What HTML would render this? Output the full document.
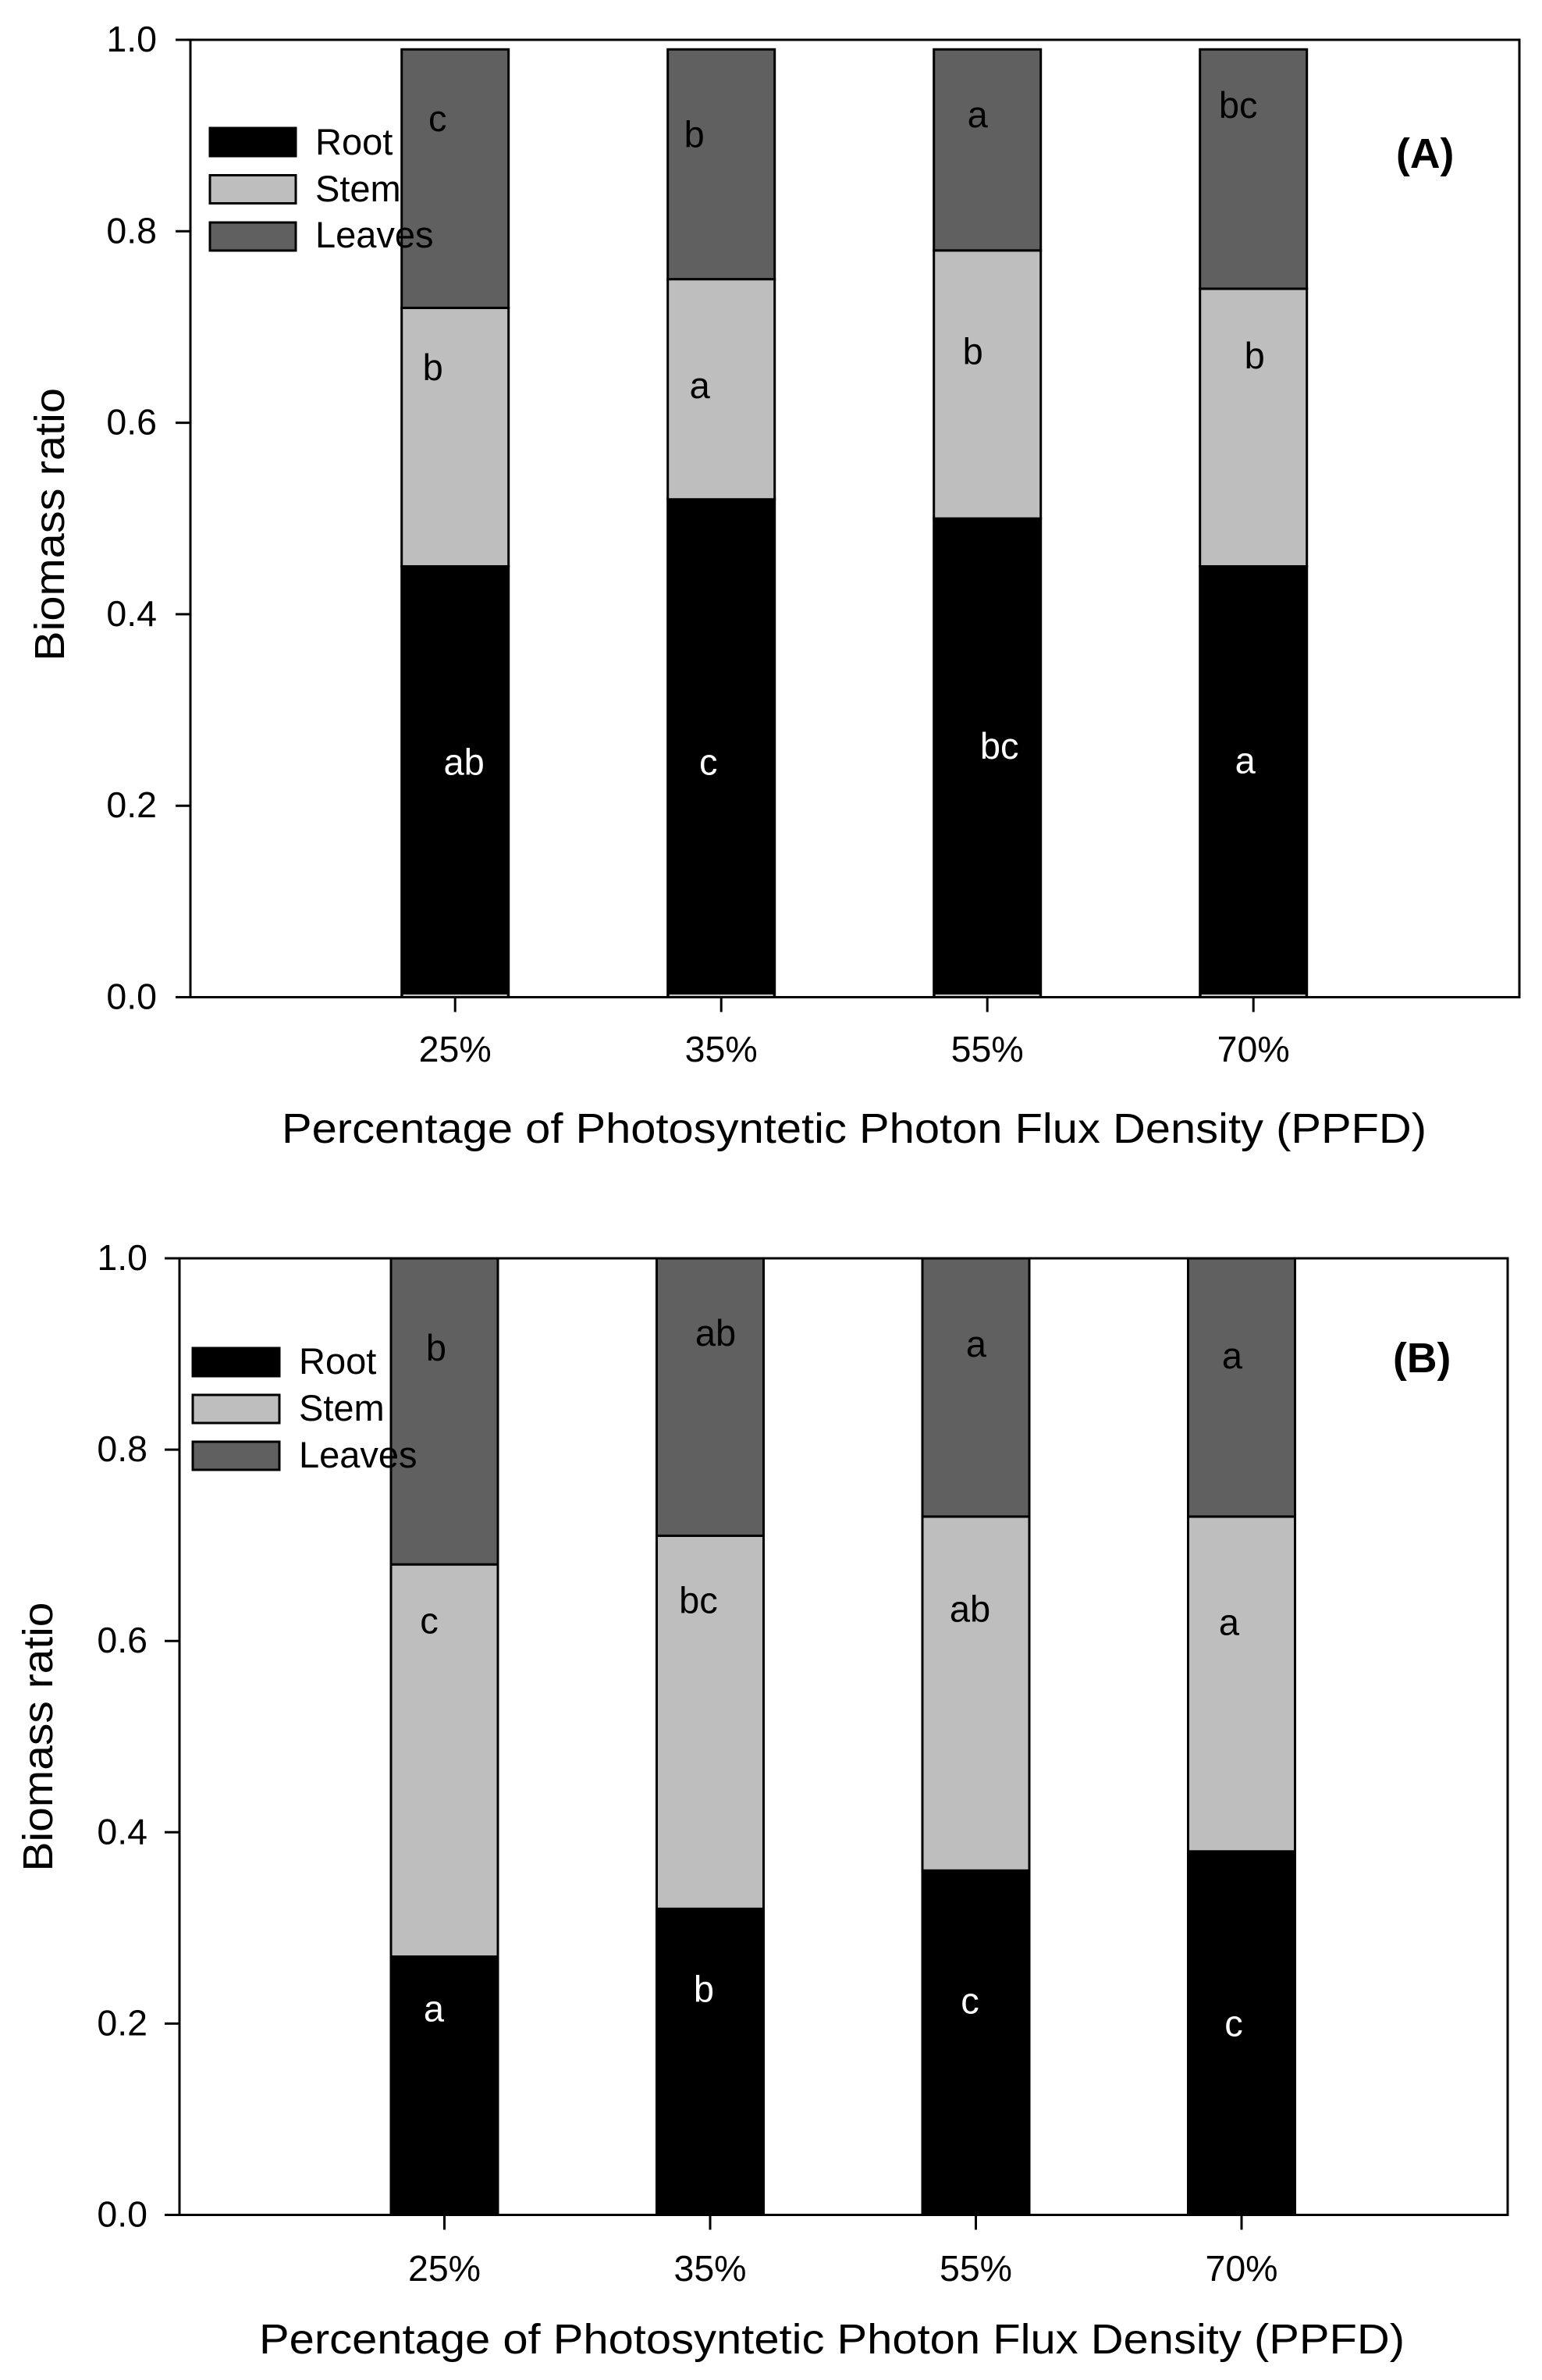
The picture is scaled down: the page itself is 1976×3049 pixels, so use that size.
<!DOCTYPE html>
<html lang="en">
<head>
<meta charset="utf-8">
<title>Biomass ratio by PPFD</title>
<style>
  html, body { margin: 0; padding: 0; background: #fff; }
  svg { display: block; }
  text { font-family: "Liberation Sans", Arial, sans-serif; fill: #000; }
</style>
</head>
<body>
<svg id="figure" xmlns="http://www.w3.org/2000/svg" width="1976" height="3049" viewBox="0 0 1976 3049"></svg>
<script>
// ---- Chart data ----
const categories = ['25%', '35%', '55%', '70%'];
const yTickValues = [0, 0.2, 0.4, 0.6, 0.8, 1];
const seriesNames = ['Root', 'Stem', 'Leaves'];

const rootA = [0.45, 0.52, 0.50, 0.45];
const stemA = [0.27, 0.23, 0.28, 0.29];
const leavesA = [0.27, 0.24, 0.21, 0.25];

const rootB = [0.27, 0.32, 0.36, 0.38];
const stemB = [0.41, 0.39, 0.37, 0.35];
const leavesB = [0.32, 0.29, 0.27, 0.27];

const rootLettersA = ['ab', 'c', 'bc', 'a'];
const stemLettersA = ['b', 'a', 'b', 'b'];
const leavesLettersA = ['c', 'b', 'a', 'bc'];

const rootLettersB = ['a', 'b', 'c', 'c'];
const stemLettersB = ['c', 'bc', 'ab', 'a'];
const leavesLettersB = ['b', 'ab', 'a', 'a'];

// ---- Layout (not data) ----
const svgNS = 'http://www.w3.org/2000/svg';
const figure = document.getElementById('figure');
const fillColors = ['#000000', '#bebebe', '#606060'];
const TICK_FONT = 46.5;
const TITLE_FONT = 54;

const panelLayouts = {
  A: {
    left: 244, right: 1947, top: 51, bottom: 1277.5,
    firstBar: 583.2, barStep: 341, barWidth: 137,
    tickLabelRight: 201, xTickBaseline: 1360, xTitleX: 361, xTitleBaseline: 1464, xTitleLen: 1467,
    yTitleX: 82, yTitleMid: 672, yTitleLen: 350,
    legendLeft: 269, legendWidth: 110, legendTextX: 404,
    legendTops: [164, 224.5, 285], legendHeight: 36, legendBaselines: [198, 258, 317],
    panelLabelX: 1789, panelLabelBaseline: 215,
    baseHighlight: true,
    nudges: [
      [[11.5, -9], [-16.5, 34], [15.5, 1], [-10.5, -11]],
      [[-28.5, -73], [-27.5, 11.5], [-18.5, -26], [1.5, -75.5]],
      [[-22.5, -61], [-34.5, -22], [-12.5, -29], [-19.5, -65.5]]
    ]
  },
  B: {
    left: 230, right: 1932, top: 1612, bottom: 2837.5,
    firstBar: 569.5, barStep: 340.5, barWidth: 137,
    tickLabelRight: 189, xTickBaseline: 2922, xTitleX: 332, xTitleBaseline: 3015, xTitleLen: 1468,
    yTitleX: 67, yTitleMid: 2225, yTitleLen: 345,
    legendLeft: 247, legendWidth: 111, legendTextX: 383,
    legendTops: [1727, 1787, 1847], legendHeight: 36, legendBaselines: [1760, 1820, 1880],
    panelLabelX: 1785, panelLabelBaseline: 1758,
    baseHighlight: false,
    nudges: [
      [[-13.5, -82.6], [-8, -77], [-7.5, -37.5], [-10, 4]],
      [[-19.5, -163], [-15, -140], [-7.5, -92], [-16, -63]],
      [[-10.5, -65], [7, -65.6], [0.5, -39.4], [-12, -24.4]]
    ]
  }
};

function make(tag, attrs, parent) {
  const el = document.createElementNS(svgNS, tag);
  for (const k in attrs) el.setAttribute(k, attrs[k]);
  parent.appendChild(el);
  return el;
}

function drawPanel(id, layout, series, letters) {
  const xScale = i => layout.firstBar + layout.barStep * i;
  const yScale = v => layout.bottom - (layout.bottom - layout.top) * v;
  const lower = id.toLowerCase();

  const panel = make('g', {}, figure);
  
  

  // Stacked bars
  categories.forEach((cat, i) => {
    let base = 0;
    series.forEach((values, s) => {
      const top = base + values[i];
      const bar = make('rect', {
        x: xScale(i) - layout.barWidth / 2,
        y: yScale(top),
        width: layout.barWidth,
        height: yScale(base) - yScale(top),
        fill: fillColors[s],
        stroke: '#000',
        'stroke-width': 3
      }, panel);
      
      
      base = top;
    });
    if (layout.baseHighlight) {
      const glint = make('line', {
        x1: xScale(i) - layout.barWidth / 2 + 2,
        x2: xScale(i) + layout.barWidth / 2 - 2,
        y1: yScale(0) - 2.5,
        y2: yScale(0) - 2.5,
        stroke: '#c8c8c8',
        'stroke-width': 2
      }, panel);
      
      
    }
  });

  // Significance letters
  categories.forEach((cat, i) => {
    let base = 0;
    series.forEach((values, s) => {
      const mid = base + values[i] / 2;
      const nudge = layout.nudges[s][i];
      const letter = make('text', {
        x: xScale(i) + nudge[0],
        y: yScale(mid) + nudge[1],
        'font-size': 47,
        'text-anchor': 'middle',
        style: s === 0 ? 'fill:#fff' : 'fill:#000'
      }, panel);
      letter.textContent = letters[s][i];
      
      
      base += values[i];
    });
  });

  // Plot frame
  const frame = make('rect', {
    x: layout.left, y: layout.top,
    width: layout.right - layout.left,
    height: layout.bottom - layout.top,
    fill: 'none', stroke: '#000', 'stroke-width': 3
  }, panel);
  
  

  // Y axis ticks and labels
  yTickValues.forEach(v => {
    const tick = make('line', {
      x1: layout.left - 19, x2: layout.left,
      y1: yScale(v), y2: yScale(v),
      stroke: '#000', 'stroke-width': 3
    }, panel);
    
    
    const label = make('text', {
      x: layout.tickLabelRight,
      y: yScale(v) + 15,
      'font-size': TICK_FONT,
      'text-anchor': 'end'
    }, panel);
    label.textContent = v.toFixed(1);
    
    
  });

  // X axis ticks and labels
  categories.forEach((cat, i) => {
    const tick = make('line', {
      x1: xScale(i), x2: xScale(i),
      y1: layout.bottom, y2: layout.bottom + 19,
      stroke: '#000', 'stroke-width': 3
    }, panel);
    
    
    const label = make('text', {
      x: xScale(i),
      y: layout.xTickBaseline,
      'font-size': TICK_FONT,
      'text-anchor': 'middle'
    }, panel);
    label.textContent = cat;
    
    
  });

  // Axis titles
  const xTitle = make('text', {
    x: layout.xTitleX, y: layout.xTitleBaseline,
    'font-size': TITLE_FONT,
    textLength: layout.xTitleLen,
    lengthAdjust: 'spacingAndGlyphs'
  }, panel);
  xTitle.textContent = 'Percentage of Photosyntetic Photon Flux Density (PPFD)';
  
  

  const yTitle = make('text', {
    x: 0, y: 0,
    'font-size': TITLE_FONT,
    'text-anchor': 'middle',
    textLength: layout.yTitleLen,
    lengthAdjust: 'spacingAndGlyphs',
    transform: 'translate(' + layout.yTitleX + ' ' + layout.yTitleMid + ') rotate(-90)'
  }, panel);
  yTitle.textContent = 'Biomass ratio';
  
  

  // Legend
  seriesNames.forEach((name, s) => {
    const swatch = make('rect', {
      x: layout.legendLeft, y: layout.legendTops[s],
      width: layout.legendWidth, height: layout.legendHeight,
      fill: fillColors[s], stroke: '#000', 'stroke-width': 3
    }, panel);
    
    
    const label = make('text', {
      x: layout.legendTextX, y: layout.legendBaselines[s],
      'font-size': 47
    }, panel);
    label.textContent = name;
    
    
  });

  // Panel label
  const tag = make('text', {
    x: layout.panelLabelX, y: layout.panelLabelBaseline,
    'font-size': 53.5, 'font-weight': 'bold'
  }, panel);
  tag.textContent = '(' + id + ')';
  
  
}

drawPanel('A', panelLayouts.A, [rootA, stemA, leavesA], [rootLettersA, stemLettersA, leavesLettersA]);
drawPanel('B', panelLayouts.B, [rootB, stemB, leavesB], [rootLettersB, stemLettersB, leavesLettersB]);
</script>
</body>
</html>
